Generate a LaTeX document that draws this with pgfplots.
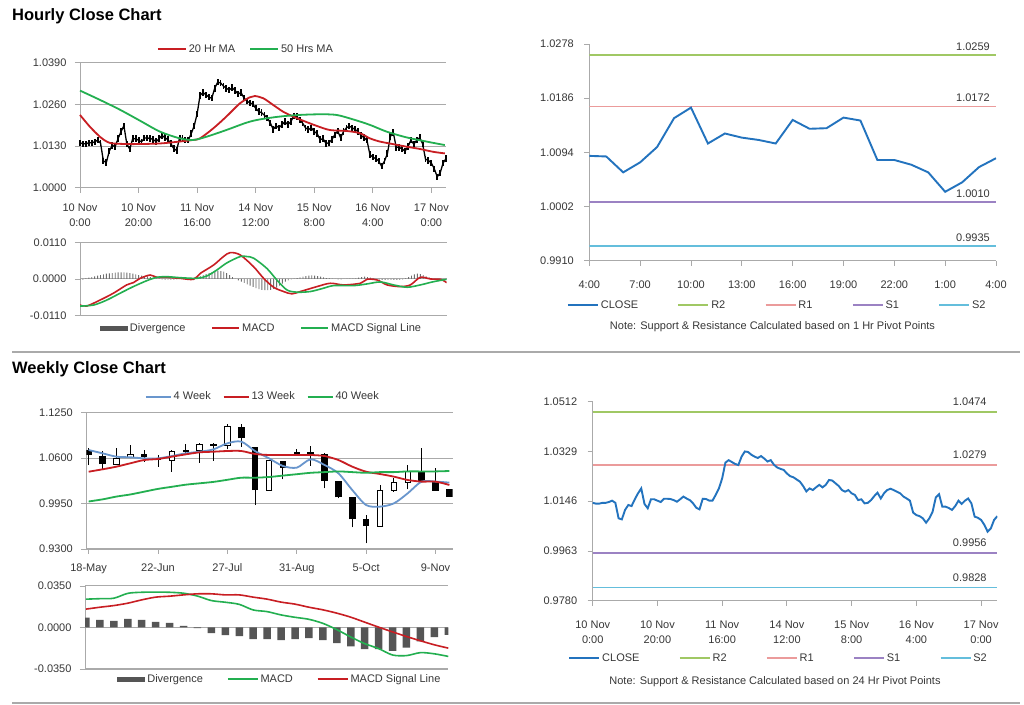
\documentclass[border=0pt]{standalone}
\usepackage{pgfplots}
\usepackage{pgfplotstable}
\pgfplotsset{compat=1.18}
\usepackage{fontspec}
\setmainfont{Liberation Sans}

\definecolor{gridc}{RGB}{170,170,170}
\definecolor{txt}{RGB}{55,55,55}
\definecolor{maRed}{RGB}{200,30,35}
\definecolor{maGreen}{RGB}{35,175,80}
\definecolor{maBlue}{RGB}{105,150,205}
\definecolor{divDark}{RGB}{85,85,85}
\definecolor{divLight}{RGB}{110,110,110}
\definecolor{closeBlue}{RGB}{35,115,190}
\definecolor{rTwo}{RGB}{160,200,100}
\definecolor{rOne}{RGB}{235,155,155}
\definecolor{sOne}{RGB}{155,130,195}
\definecolor{sTwo}{RGB}{100,190,220}

% hourly closes (10 Nov 0:00 = hour 0) and MACD divergence
\pgfplotstableread{
h c d
0 1.0140 -0.0003
1 1.0137 -0.0002
2 1.0137 0.0002
3 1.0140 0.0004
4 1.0140 0.0006
5 1.0143 0.0008
6 1.0148 0.0010
7 1.0140 0.0012
8 1.0083 0.0014
9 1.0079 0.0016
10 1.0114 0.0017
11 1.0132 0.0018
12 1.0128 0.0019
13 1.0153 0.0020
14 1.0175 0.0020
15 1.0193 0.0020
16 1.0136 0.0019
17 1.0120 0.0018
18 1.0153 0.0016
19 1.0153 0.0014
20 1.0148 0.0012
21 1.0143 0.0010
22 1.0155 0.0009
23 1.0155 0.0008
24 1.0154 0.0006
25 1.0150 0.0004
26 1.0144 0.0002
27 1.0153 0.0001
28 1.0163 -0.0001
29 1.0156 -0.0002
30 1.0150 -0.0002
31 1.0138 -0.0002
32 1.0122 -0.0002
33 1.0116 -0.0001
34 1.0155 0.0000
35 1.0154 0.0000
36 1.0148 0.0000
37 1.0148 0.0001
38 1.0169 0.0002
39 1.0193 0.0004
40 1.0230 0.0006
41 1.0288 0.0009
42 1.0297 0.0012
43 1.0290 0.0015
44 1.0283 0.0018
45 1.0279 0.0021
46 1.0310 0.0024
47 1.0329 0.0025
48 1.0327 0.0024
49 1.0317 0.0022
50 1.0310 0.0018
51 1.0305 0.0012
52 1.0312 0.0006
53 1.0303 0.0000
54 1.0292 -0.0004
55 1.0297 -0.0008
56 1.0280 -0.0012
57 1.0270 -0.0016
58 1.0265 -0.0020
59 1.0261 -0.0024
60 1.0248 -0.0028
61 1.0238 -0.0031
62 1.0234 -0.0033
63 1.0226 -0.0034
64 1.0218 -0.0034
65 1.0202 -0.0033
66 1.0182 -0.0030
67 1.0193 -0.0026
68 1.0187 -0.0020
69 1.0197 -0.0014
70 1.0206 -0.0008
71 1.0197 -0.0004
72 1.0206 -0.0001
73 1.0224 0.0001
74 1.0222 0.0003
75 1.0212 0.0005
76 1.0202 0.0007
77 1.0187 0.0009
78 1.0181 0.0010
79 1.0187 0.0011
80 1.0175 0.0010
81 1.0169 0.0009
82 1.0150 0.0007
83 1.0153 0.0005
84 1.0138 0.0003
85 1.0140 0.0002
86 1.0150 0.0001
87 1.0165 0.0000
88 1.0177 -0.0001
89 1.0156 -0.0001
90 1.0175 0.0000
91 1.0187 0.0001
92 1.0192 0.0001
93 1.0187 0.0001
94 1.0181 0.0002
95 1.0175 0.0004
96 1.0163 0.0006
97 1.0156 0.0007
98 1.0148 0.0006
99 1.0104 0.0004
100 1.0095 0.0002
101 1.0091 0.0000
102 1.0083 -0.0002
103 1.0067 -0.0003
104 1.0083 -0.0003
105 1.0107 -0.0003
106 1.0160 -0.0003
107 1.0172 -0.0003
108 1.0126 -0.0003
109 1.0126 -0.0003
110 1.0121 -0.0001
111 1.0114 0.0002
112 1.0128 0.0006
113 1.0148 0.0010
114 1.0136 0.0014
115 1.0148 0.0016
116 1.0156 0.0015
117 1.0138 0.0012
118 1.0089 0.0008
119 1.0085 0.0005
120 1.0077 0.0002
121 1.0059 0.0001
122 1.0034 0.0000
123 1.0046 -0.0001
124 1.0077 -0.0002
125 1.0091 -0.0002
}\hourly

% weekly candles (week 0 = 18 May)
\pgfplotstableread{
i o c hi lo
0 1.0716 1.0645 1.0750 1.0500
1 1.0630 1.0516 1.0707 1.0444
4 1.0654 1.0612 1.0716 1.0549
5 1.0597 1.0573 1.0645 1.0478
7 1.0716 1.0683 1.0797 1.0669
9 1.0797 1.0778 1.0812 1.0564
11 1.1050 1.0883 1.1088 1.0764
12 1.0755 1.0144 1.0755 0.9929
14 1.0559 1.0464 1.0559 1.0297
15 1.0692 1.0659 1.0726 1.0645
16 1.0683 1.0645 1.0774 1.0492
17 1.0659 1.0273 1.0669 1.0168
18 1.0278 1.0039 1.0278 1.0025
19 1.0049 0.9724 1.0049 0.9610
20 0.9724 0.9629 0.9786 0.9381
24 1.0406 1.0273 1.0750 1.0263
25 1.0254 1.0135 1.0454 1.0135
26 1.0154 1.0049 1.0154 1.0049
}\wkdown
\pgfplotstableread{
i o c hi lo
2 1.0516 1.0597 1.0750 1.0516
3 1.0612 1.0659 1.0788 1.0597
6 1.0559 1.0692 1.0716 1.0406
8 1.0716 1.0788 1.0821 1.0535
10 1.0774 1.1050 1.1088 1.0726
13 1.0144 1.0559 1.0573 1.0130
21 0.9629 1.0144 1.0216 0.9629
22 1.0135 1.0249 1.0311 1.0120
23 1.0249 1.0406 1.0502 1.0154
}\wkup

\pgfplotstableread{
i a4 a13 a40
0 1.0716 1.0406 0.9980
1 1.0669 1.0440 1.0010
2 1.0621 1.0478 1.0050
3 1.0612 1.0526 1.0080
4 1.0597 1.0573 1.0120
5 1.0597 1.0588 1.0160
6 1.0630 1.0621 1.0190
7 1.0669 1.0654 1.0220
8 1.0692 1.0683 1.0240
9 1.0726 1.0692 1.0260
10 1.0812 1.0702 1.0290
11 1.0836 1.0702 1.0320
12 1.0700 1.0659 1.0320
13 1.0597 1.0645 1.0330
14 1.0488 1.0645 1.0350
15 1.0464 1.0645 1.0370
16 1.0583 1.0645 1.0390
17 1.0502 1.0630 1.0400
18 1.0383 1.0573 1.0410
19 1.0144 1.0478 1.0400
20 0.9929 1.0406 1.0390
21 0.9906 1.0373 1.0400
22 0.9953 1.0335 1.0400
23 1.0097 1.0287 1.0410
24 1.0264 1.0264 1.0410
25 1.0264 1.0264 1.0410
26 1.0250 1.0216 1.0416
}\wkma

\pgfplotstableread{
i d m s
0 0.0084 0.0239 0.0155
1 0.0065 0.0243 0.0171
2 0.0056 0.0247 0.0185
3 0.0073 0.0288 0.0205
4 0.0065 0.0297 0.0233
5 0.0048 0.0298 0.0256
6 0.0039 0.0297 0.0264
7 0.0014 0.0289 0.0275
8 -0.0005 0.0265 0.0284
9 -0.0048 0.0227 0.0284
10 -0.0065 0.0213 0.0275
11 -0.0073 0.0195 0.0275
12 -0.0098 0.0148 0.0256
13 -0.0098 0.0134 0.0239
14 -0.0107 0.0106 0.0214
15 -0.0098 0.0086 0.0197
16 -0.0090 0.0069 0.0171
17 -0.0107 0.0035 0.0149
18 -0.0132 -0.0018 0.0121
19 -0.0160 -0.0080 0.0087
20 -0.0183 -0.0136 0.0045
21 -0.0183 -0.0178 0.0003
22 -0.0197 -0.0232 -0.0037
23 -0.0169 -0.0237 -0.0076
24 -0.0118 -0.0212 -0.0112
25 -0.0082 -0.0222 -0.0146
26 -0.0062 -0.0244 -0.0174
}\wkmacd

\pgfplotsset{
  excel/.style={
    scale only axis, anchor=south west,
    axis lines*=left,
    axis line style={gridc, line width=0.9bp},
    tick align=outside, major tick length=5bp,
    tick style={gridc, line width=0.9bp},
    grid style={gridc, line width=1bp},
    ticklabel style={font=\fontsize{11bp}{15bp}\selectfont, text=txt},
    scaled y ticks=false,
    clip mode=individual,
    legend columns=-1,
    legend style={draw=none, fill=none, inner sep=0pt, outer sep=0pt,
      font=\fontsize{11bp}{13bp}\selectfont, text=txt, anchor=west},
    legend cell align=left,
  },
  lineleg/.style={legend image code/.code={\draw[##1] (0bp,0bp) -- (#1,0bp);}},
  legsep/.style={legend style={/tikz/every even column/.append style={column sep=#1}}},
  barleg/.style={legend image code/.code={\fill[divDark] (0bp,-2.5bp) rectangle (28bp,2.5bp);}},
  sticks/.style={forget plot, draw=none, mark=none},
}

\begin{document}
\begin{tikzpicture}
\useasboundingbox (0,0) rectangle (1024bp,705bp);
\fill[white] (0,0) rectangle (1024bp,705bp);
\draw[gridc, line width=1.2bp] (12bp,353bp) -- (1020bp,353bp);
\draw[gridc, line width=2bp] (12bp,2bp) -- (1020bp,2bp);
\node[anchor=west, inner sep=0pt, font=\fontsize{16.5bp}{20bp}\selectfont\bfseries] at (12bp,689bp) {Hourly Close Chart};
\node[anchor=west, inner sep=0pt, font=\fontsize{16.5bp}{20bp}\selectfont\bfseries] at (12bp,336bp) {Weekly Close Chart};
\node[inner sep=0pt, font=\fontsize{11bp}{13bp}\selectfont, text=txt] at (772.5bp,378.3bp) {Note: Support \& Resistance Calculated based on 1 Hr Pivot Points};
\node[inner sep=0pt, font=\fontsize{11bp}{13bp}\selectfont, text=txt] at (775bp,23.3bp) {Note: Support \& Resistance Calculated based on 24 Hr Pivot Points};

% ---------------- hourly candles
\begin{axis}[excel, at={(80bp,517.3bp)}, width=366bp, height=125bp,
  xmin=0, xmax=125, ymin=1.0, ymax=1.039, clip=false,
  ymajorgrids,
  ytick={1.0,1.013,1.026,1.039}, yticklabels={1.0000,1.0130,1.0260,1.0390},
  yticklabel style={xshift=-5bp},
  xtick={0,20,...,120},
  xticklabels={{10 Nov\\0:00},{10 Nov\\20:00},{11 Nov\\16:00},{14 Nov\\12:00},{15 Nov\\8:00},{16 Nov\\4:00},{17 Nov\\0:00}},
  xticklabel style={align=center, yshift=-8bp},
  legend style={at={(axis description cs:0.2104,1.1096)}},
  lineleg=28bp, legsep=12bp,
]
\addplot[forget plot, black, line width=1.3bp] table[x=h, y=c] {\hourly};
\addplot[sticks, error bars/.cd, y dir=both, y fixed=0.0010, error mark=none,
  error bar style={draw=black, line width=1.9bp}] table[x=h, y=c] {\hourly};
\addplot[maRed, line width=1.8bp, smooth] coordinates {(0,1.0227) (3.4,1.0190) (6.8,1.0159) (9.1,1.0144) (11.4,1.0138) (18.2,1.0136) (27.3,1.0138) (34,1.0144) (38.7,1.0149) (41,1.0154) (45.5,1.0185) (50,1.0222) (54.6,1.0263) (58,1.0282) (59.7,1.0286) (62.6,1.0279) (66,1.0258) (69.4,1.0237) (72.8,1.0222) (76.2,1.0209) (80.8,1.0193) (85.3,1.0180) (91,1.0177) (95.6,1.0170) (99,1.0154) (102.4,1.0144) (106.9,1.0136) (111.5,1.0128) (116,1.0121) (120.6,1.0112) (124.6,1.0107)};
\addlegendentry{20 Hr MA}
\addplot[maGreen, line width=1.8bp, smooth] coordinates {(0,1.0303) (6.8,1.0274) (13.7,1.0243) (20.5,1.0209) (27.3,1.0175) (34.1,1.0154) (38.7,1.0149) (43.2,1.0159) (50,1.0180) (56.9,1.0203) (61.4,1.0213) (68.3,1.0222) (75,1.0227) (81.9,1.0229) (87.6,1.0227) (93.3,1.0213) (99,1.0196) (104.7,1.0175) (111.5,1.0157) (118.3,1.0144) (124.6,1.0133)};
\addlegendentry{50 Hrs MA}
\end{axis}

% ---------------- hourly MACD
\begin{axis}[excel, at={(80bp,389.7bp)}, width=366.7bp, height=72.6bp,
  xmin=0, xmax=125, ymin=-0.011, ymax=0.011,
  ymajorgrids, xtick=\empty,
  ytick={-0.011,0,0.011}, yticklabels={-0.0110,0.0000,0.0110},
  yticklabel style={xshift=-5bp},
  legend style={at={(axis description cs:0.0545,-0.179)}},
  lineleg=27bp, legsep=24bp,
]
\addplot[ybar, bar width=0.9bp, fill=divLight, draw=none, barleg] table[x=h, y=d] {\hourly};
\addlegendentry{Divergence}
\addplot[maRed, line width=1.6bp, smooth] coordinates {(0,-0.0079) (2.3,-0.0082) (6.8,-0.0064) (11.4,-0.0043) (15.9,-0.0018) (18.2,-0.0011) (20.5,0.0002) (23.9,0.0012) (26.2,0.0005) (29.6,0.0005) (34.1,0.0002) (38.7,-0.0001) (41,0.0017) (45.5,0.0042) (48.9,0.0068) (51.2,0.0080) (54.6,0.0073) (59.2,0.0037) (62.6,0.0002) (66,-0.0025) (69.4,-0.0038) (72.2,-0.0045) (75.1,-0.0038) (80.8,-0.0023) (85.3,-0.0013) (89.9,-0.0018) (95.6,-0.0013) (97.8,-0.0001) (101.3,-0.0003) (104.7,-0.0018) (109.2,-0.0023) (112.6,-0.0018) (116,0.0005) (119.5,0.0000) (122.9,-0.0001) (125,-0.0011)};
\addlegendentry{MACD}
\addplot[maGreen, line width=1.6bp, smooth] coordinates {(0,-0.0082) (4.6,-0.0079) (9.1,-0.0064) (13.7,-0.0043) (18.2,-0.0023) (22.8,-0.0005) (26.2,0.0005) (29.6,0.0007) (34.1,0.0004) (39.8,0.0002) (43.2,0.0009) (46.6,0.0027) (50.1,0.0049) (54.6,0.0068) (56.9,0.0068) (59.2,0.0063) (63.7,0.0032) (67.1,-0.0003) (70.5,-0.0033) (73.9,-0.0040) (78.5,-0.0038) (83,-0.0028) (86.5,-0.0020) (93.3,-0.0020) (97.8,-0.0015) (102.4,-0.0009) (106.9,-0.0018) (111.5,-0.0025) (116,-0.0018) (120.6,-0.0008) (125,-0.0001)};
\addlegendentry{MACD Signal Line}
\end{axis}

% ---------------- 1 hr pivot chart
\begin{axis}[excel, at={(589.3bp,444.3bp)}, width=406.7bp, height=216.7bp,
  xmin=0, xmax=24, ymin=0.991, ymax=1.0278,
  ytick={0.991,1.0002,1.0094,1.0186,1.0278}, yticklabels={0.9910,1.0002,1.0094,1.0186,1.0278},
  yticklabel style={xshift=-7bp},
  xtick={0,3,...,24}, xticklabels={4:00,7:00,10:00,13:00,16:00,19:00,22:00,1:00,4:00},
  xticklabel style={yshift=-12bp},
  legend style={at={(axis description cs:-0.0548,-0.2044)}},
  lineleg=30bp, legsep=37.5bp, reverse legend,
]
\addplot[sTwo, line width=1.6bp] coordinates {(0,0.9935) (24,0.9935)};
\addlegendentry{S2}
\addplot[sOne, line width=1.6bp] coordinates {(0,1.0010) (24,1.0010)};
\addlegendentry{S1}
\addplot[rOne, line width=1.6bp] coordinates {(0,1.0172) (24,1.0172)};
\addlegendentry{R1}
\addplot[rTwo, line width=1.6bp] coordinates {(0,1.0259) (24,1.0259)};
\addlegendentry{R2}
\addplot[closeBlue, line width=1.9bp] coordinates {(0,1.0088) (1,1.0087) (2,1.0060) (3,1.0077) (4,1.0103) (5,1.0152) (6,1.0170) (7,1.0109) (8,1.0126) (9,1.0119) (10,1.0115) (11,1.0109) (12,1.0149) (13,1.0134) (14,1.0135) (15,1.0153) (16,1.0148) (17,1.0081) (18,1.0081) (19,1.0073) (20,1.0060) (21,1.0027) (22,1.0043) (23,1.0069) (24,1.0084)};
\addlegendentry{CLOSE}
\begin{scope}[every node/.style={anchor=south east, inner sep=0pt, xshift=-6bp, yshift=4.5bp, font=\fontsize{11bp}{13bp}\selectfont, text=txt}]
\node at (axis cs:24,1.0259) {1.0259};
\node at (axis cs:24,1.0172) {1.0172};
\node at (axis cs:24,1.0010) {1.0010};
\node at (axis cs:24,0.9935) {0.9935};
\end{scope}
\end{axis}

% ---------------- weekly candles
\begin{axis}[excel, at={(86.3bp,156bp)}, width=366.4bp, height=136.3bp,
  xmin=-0.17, xmax=26.24, ymin=0.93, ymax=1.125,
  ymajorgrids,
  ytick={0.93,0.995,1.06,1.125}, yticklabels={0.9300,0.9950,1.0600,1.1250},
  yticklabel style={xshift=-5bp},
  xtick={0,5,...,25}, xticklabels={18-May,22-Jun,27-Jul,31-Aug,5-Oct,9-Nov},
  xticklabel style={yshift=-6bp},
  legend style={at={(axis description cs:0.160,1.1174)}},
  lineleg=25bp, legsep=10bp,
]
% wicks
\addplot[sticks, error bars/.cd, y dir=plus, y explicit, error mark=none,
  error bar style={draw=black, line width=1bp}] table[x=i, y=lo, y error plus expr=\thisrow{hi}-\thisrow{lo}] {\wkdown};
\addplot[sticks, error bars/.cd, y dir=plus, y explicit, error mark=none,
  error bar style={draw=black, line width=1bp}] table[x=i, y=lo, y error plus expr=\thisrow{hi}-\thisrow{lo}] {\wkup};
% falling weeks: black bodies
\addplot[sticks, error bars/.cd, y dir=plus, y explicit, error mark=none,
  error bar style={draw=black, line width=6.5bp}] table[x=i, y=c, y error plus expr=\thisrow{o}-\thisrow{c}] {\wkdown};
% rising weeks: white bodies with black outline
\addplot[sticks, error bars/.cd, y dir=plus, y explicit, error mark=none,
  error bar style={draw=black, line width=6.5bp}] table[x=i, y=o, y error plus expr=\thisrow{c}-\thisrow{o}] {\wkup};
\addplot[sticks, error bars/.cd, y dir=plus, y explicit, error mark=none,
  error bar style={draw=white, line width=4.5bp}] table[x=i, y=o, y error plus expr=\thisrow{c}-\thisrow{o}] {\wkup};
\addplot[forget plot, only marks, mark=-, mark size=3.25bp, mark options={black, line width=1bp}] table[x=i, y=o] {\wkup};
\addplot[forget plot, only marks, mark=-, mark size=3.25bp, mark options={black, line width=1bp}] table[x=i, y=c] {\wkup};
\addplot[maBlue, line width=1.8bp, smooth] table[x=i, y=a4] {\wkma};
\addlegendentry{4 Week}
\addplot[maRed, line width=1.8bp, smooth] table[x=i, y=a13] {\wkma};
\addlegendentry{13 Week}
\addplot[maGreen, line width=1.8bp, smooth] table[x=i, y=a40] {\wkma};
\addlegendentry{40 Week}
\end{axis}

% ---------------- weekly MACD
\begin{axis}[excel, at={(85bp,36bp)}, width=363.3bp, height=83bp,
  xmin=-0.07, xmax=26, ymin=-0.035, ymax=0.035,
  ymajorgrids, xtick=\empty,
  ytick={-0.035,0,0.035}, yticklabels={-0.0350,0.0000,0.0350},
  yticklabel style={xshift=-5bp},
  legend style={at={(axis description cs:0.089,-0.124)}},
  lineleg=30bp, legsep=22bp,
]
\addplot[ybar, bar width=7.5bp, fill=divDark, draw=none, barleg] table[x=i, y=d] {\wkmacd};
\addlegendentry{Divergence}
\addplot[maGreen, line width=1.6bp, smooth] table[x=i, y=m] {\wkmacd};
\addlegendentry{MACD}
\addplot[maRed, line width=1.6bp, smooth] table[x=i, y=s] {\wkmacd};
\addlegendentry{MACD Signal Line}
\end{axis}

% ---------------- 24 hr pivot chart
\begin{axis}[excel, at={(592.7bp,104.3bp)}, width=404.6bp, height=199bp,
  xmin=0, xmax=125, ymin=0.978, ymax=1.0512,
  ytick={0.978,0.9963,1.0146,1.0329,1.0512}, yticklabels={0.9780,0.9963,1.0146,1.0329,1.0512},
  yticklabel style={xshift=-7bp},
  xtick={0,20,...,120},
  xticklabels={{10 Nov\\0:00},{10 Nov\\20:00},{11 Nov\\16:00},{14 Nov\\12:00},{15 Nov\\8:00},{16 Nov\\4:00},{17 Nov\\0:00}},
  xticklabel style={align=center, yshift=-12bp},
  legend style={at={(axis description cs:-0.0603,-0.2894)}},
  lineleg=30bp, legsep=37.5bp, reverse legend,
]
\addplot[sTwo, line width=1.6bp] coordinates {(0,0.9828) (125,0.9828)};
\addlegendentry{S2}
\addplot[sOne, line width=1.6bp] coordinates {(0,0.9956) (125,0.9956)};
\addlegendentry{S1}
\addplot[rOne, line width=1.6bp] coordinates {(0,1.0279) (125,1.0279)};
\addlegendentry{R1}
\addplot[rTwo, line width=1.6bp] coordinates {(0,1.0474) (125,1.0474)};
\addlegendentry{R2}
\addplot[closeBlue, line width=1.9bp] table[x=h, y=c] {\hourly};
\addlegendentry{CLOSE}
\begin{scope}[every node/.style={anchor=south east, inner sep=0pt, xshift=-10.5bp, yshift=6bp, font=\fontsize{11bp}{13bp}\selectfont, text=txt}]
\node at (axis cs:125,1.0474) {1.0474};
\node at (axis cs:125,1.0279) {1.0279};
\node at (axis cs:125,0.9956) {0.9956};
\node at (axis cs:125,0.9828) {0.9828};
\end{scope}
\end{axis}
\end{tikzpicture}
\end{document}
